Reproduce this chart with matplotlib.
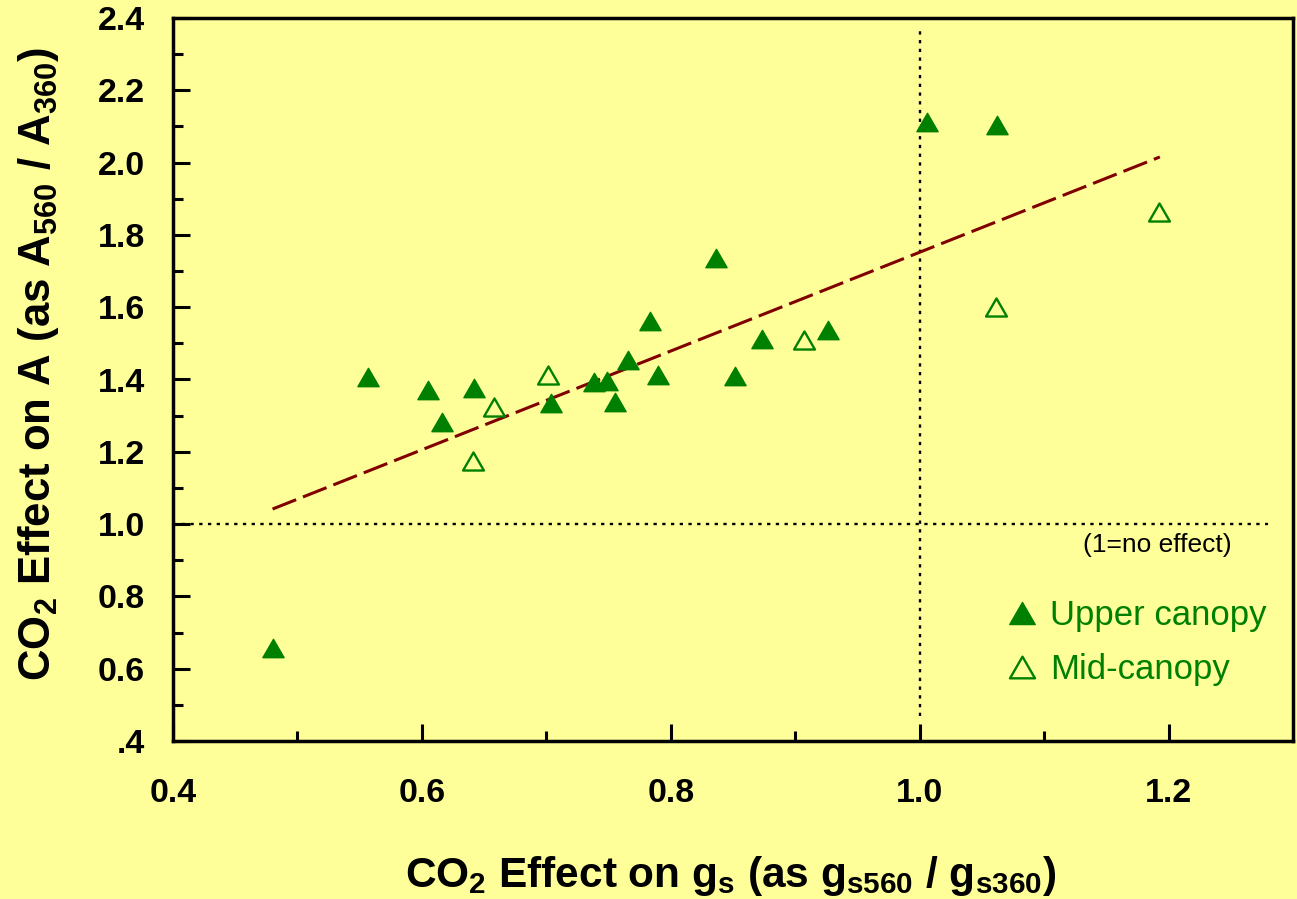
import numpy as np
import matplotlib
matplotlib.use("Agg")
import matplotlib.pyplot as plt
from matplotlib.path import Path

plt.rcParams['font.family'] = ['Liberation Sans', 'DejaVu Sans']
plt.rcParams['mathtext.fontset'] = 'custom'
plt.rcParams['mathtext.bf'] = 'Liberation Sans:bold'
plt.rcParams['mathtext.rm'] = 'Liberation Sans:bold'
plt.rcParams['mathtext.default'] = 'bf'

# stomatal conductance ratio (x) vs photosynthesis ratio (y)
upper_gs = [0.480, 0.557, 0.605, 0.616, 0.642, 0.704, 0.738, 0.749, 0.755,
            0.766, 0.783, 0.790, 0.836, 0.852, 0.873, 0.926, 1.006, 1.062]
upper_a = [0.657, 1.407, 1.372, 1.282, 1.376, 1.336, 1.394, 1.395, 1.338,
           1.453, 1.562, 1.412, 1.737, 1.409, 1.511, 1.538, 2.112, 2.103]
mid_gs = [0.641, 0.658, 0.701, 0.907, 1.061, 1.192]
mid_a = [1.175, 1.324, 1.412, 1.510, 1.601, 1.864]

# linear trend  A = slope*gs + intercept
trend_slope, trend_intercept = 1.366, 0.386
trend_x = [0.480, 1.193]

no_effect = 1.0
hline_x = [0.4, 1.28]
vline_y = [0.47, 2.37]

x_ticks = [0.4, 0.6, 0.8, 1.0, 1.2]
x_labels = ['0.4', '0.6', '0.8', '1.0', '1.2']
y_ticks = [0.4, 0.6, 0.8, 1.0, 1.2, 1.4, 1.6, 1.8, 2.0, 2.2, 2.4]
y_labels = ['.4', '0.6', '0.8', '1.0', '1.2', '1.4', '1.6', '1.8', '2.0', '2.2', '2.4']

bg = '#FFFF99'
green = '#008000'
tri = Path([(0, 0.866), (-1, -0.866), (1, -0.866), (0, 0.866)],
           [Path.MOVETO, Path.LINETO, Path.LINETO, Path.CLOSEPOLY])

fig = plt.figure(figsize=(12.97, 8.99), dpi=100, facecolor=bg)
ax = fig.add_axes([173/1297, 1-741/899, 1120/1297, 723/899], facecolor=bg)

ax.plot(hline_x, [no_effect, no_effect], color='black', lw=1.7, ls=(0, (1.4, 2.3)))
ax.plot([no_effect, no_effect], vline_y, color='black', lw=1.7, ls=(0, (1.4, 2.3)))

tx = np.array(trend_x)
ax.plot(tx, trend_slope*tx + trend_intercept, color='#800000', lw=2.2,
        ls=(0, (8.3, 2.4)), dash_capstyle='butt')

ax.plot(upper_gs, upper_a, ls='none', marker=tri, ms=15.3, mfc=green,
        mec=green, mew=1.0, label='Upper canopy')
ax.plot(mid_gs, mid_a, ls='none', marker=tri, ms=15.0, mfc='none',
        mec=green, mew=1.7, label='Mid-canopy')

ax.text(1.191, 0.942, '(1=no effect)', fontsize=19, ha='center', va='center')

ax.set_xlim(0.4, 1.3)
ax.set_ylim(0.4, 2.4)
ax.set_xticks(x_ticks)
ax.set_xticklabels(x_labels)
ax.set_xticks(np.arange(0.5, 1.3, 0.2), minor=True)
ax.set_yticks(y_ticks)
ax.set_yticklabels(y_labels)
ax.set_yticks(np.arange(0.5, 2.4, 0.2), minor=True)
ax.tick_params(which='both', direction='in', width=2.2, top=False, right=False)
ax.tick_params(which='major', length=12.5)
ax.tick_params(which='minor', length=7.5)
ax.tick_params(axis='y', which='major', pad=20)
ax.tick_params(axis='x', which='major', pad=27)
for lab in ax.get_xticklabels() + ax.get_yticklabels():
    lab.set_fontsize(24.5)
    lab.set_fontweight('bold')
for s in ax.spines.values():
    s.set_linewidth(2.5)

leg = ax.legend(loc='upper left', bbox_to_anchor=(0.7455, 0.196), frameon=False,
                fontsize=25, handlelength=0.8, handletextpad=0.4,
                borderpad=0, borderaxespad=0, labelspacing=0.6,
                markerscale=1.2, numpoints=1)
for t in leg.get_texts():
    t.set_color(green)

fig.text(731/1297, 1-887/899, r'CO$_2$ Effect on g$_s$ (as g$_{s560}$ / g$_{s360}$)',
         fontsize=30.5, fontweight='bold', ha='center', va='baseline')
fig.text(50/1297, 1-364/899, r'CO$_2$ Effect on A (as A$_{560}$ / A$_{360}$)',
         fontsize=31.5, fontweight='bold', ha='center', va='baseline',
         rotation=90, rotation_mode='anchor')

fig.savefig('out.png', dpi=100, facecolor=bg)
